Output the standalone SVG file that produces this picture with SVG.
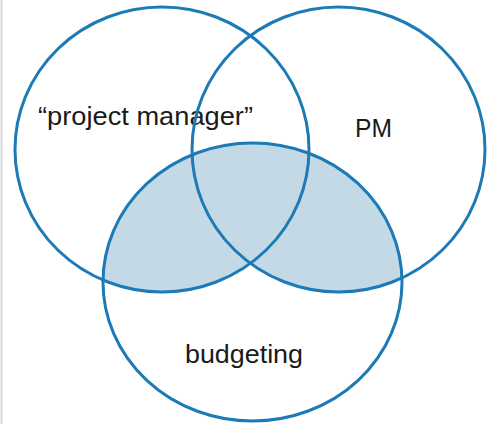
<svg xmlns="http://www.w3.org/2000/svg" width="491" height="424" viewBox="0 0 491 424">
<style>
.ring{fill:none;stroke:#1c7ab6;stroke-width:3}
.shade{fill:#c3d9e5}
.lbl{font-family:"Liberation Sans","Noto Sans",Arial,sans-serif;font-size:26px;fill:#1a1a1a}
</style>
<defs>
<clipPath id="clipC"><ellipse cx="252.5" cy="282" rx="149.5" ry="139"/></clipPath>
</defs>
<rect width="491" height="424" fill="#ffffff"/>
<line x1="1.5" y1="0" x2="1.5" y2="424" stroke="#d9d9d9" stroke-width="2"/>
<g id="overlap" clip-path="url(#clipC)">
<ellipse class="shade" cx="162" cy="149.5" rx="147" ry="142.5"/>
<ellipse class="shade" cx="338.5" cy="149.5" rx="146.5" ry="142.5"/>
</g>
<g id="project-manager">
<ellipse class="ring" cx="162" cy="149.5" rx="147" ry="142.5"/>
<text class="lbl" x="38" y="125" textLength="215" lengthAdjust="spacingAndGlyphs">“project manager”</text>
</g>
<g id="pm">
<ellipse class="ring" cx="338.5" cy="149.5" rx="146.5" ry="142.5"/>
<text class="lbl" x="355" y="137" textLength="37" lengthAdjust="spacingAndGlyphs">PM</text>
</g>
<g id="budgeting">
<ellipse class="ring" cx="252.5" cy="282" rx="149.5" ry="139"/>
<text class="lbl" x="185" y="363" textLength="118" lengthAdjust="spacingAndGlyphs">budgeting</text>
</g>
</svg>
